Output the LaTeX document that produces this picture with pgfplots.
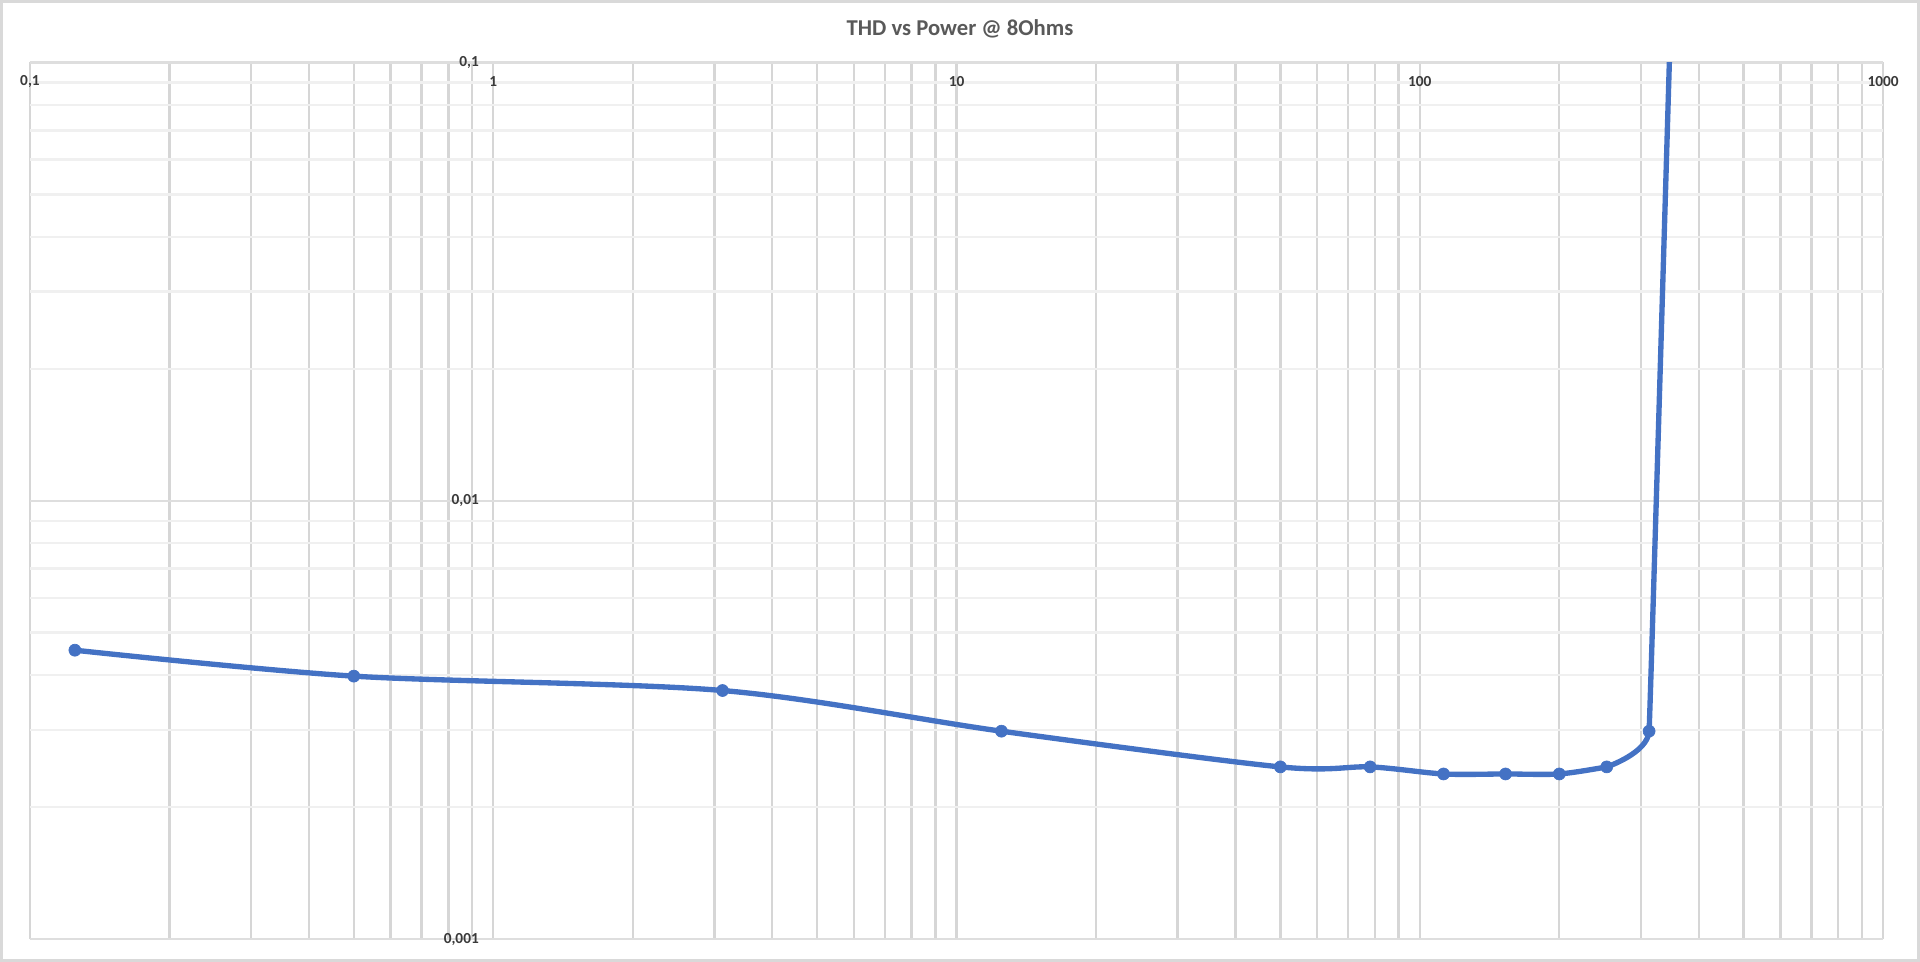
\documentclass[border=0pt]{standalone}
\usepackage{pgfplots}
\usepackage{pgfplotstable}
\pgfplotsset{compat=1.18}
\usepackage{fontspec}
\setmainfont{Carlito}

\definecolor{excelblue}{HTML}{4472C4}
\definecolor{framegray}{HTML}{D9D9D9}
\definecolor{gridx}{HTML}{D6D6D6}
\definecolor{gridymaj}{HTML}{DEDEDE}
\definecolor{gridymin}{HTML}{F0F0F0}
\definecolor{titlegray}{HTML}{595959}
\definecolor{labelgray}{HTML}{3A3A3A}

% THD (%) against output power (W) into 8 ohms
\pgfplotstableread{
P        THD
0.125    0.00456
0.5      0.00398
3.125    0.00369
12.5     0.00298
50       0.00247
78.125   0.00247
112.5    0.00238
153.125  0.00238
200      0.00238
253.125  0.00247
312.5    0.00298
378.125  2.5
}\thdtable

\begin{document}
\begin{tikzpicture}[x=1pt,y=1pt]
\useasboundingbox (0,0) rectangle (1440,721.5);
% chart area border
\draw[framegray, line width=2.25pt] (1.125,1.125) rectangle (1438.875,720.375);
% chart title
\node[font=\bfseries\fontsize{17}{20}\selectfont, text=titlegray] at (720,699.5) {THD vs Power @ 8Ohms};
\begin{axis}[
  at={(22.5pt,17.25pt)}, anchor=south west,
  scale only axis, width=1389.75pt, height=657.4pt,
  xmode=log, ymode=log,
  xmin=0.1, xmax=1000, ymin=0.001, ymax=0.1,
  axis line style={draw=none},
  major tick length=0pt, minor tick length=0pt,
  xtick={0.1,1,10,100,1000},
  xticklabels={{0,1},1,10,100,1000},
  ytick={0.001,0.01,0.1},
  yticklabels={{0,001},{0,01},{0,1}},
  minor xtick={0.2,0.3,0.4,0.5,0.6,0.7,0.8,0.9,2,3,4,5,6,7,8,9,20,30,40,50,60,70,80,90,200,300,400,500,600,700,800,900},
  minor ytick={0.002,0.003,0.004,0.005,0.006,0.007,0.008,0.009,0.02,0.03,0.04,0.05,0.06,0.07,0.08,0.09},
  xmajorgrids, xminorgrids, ymajorgrids, yminorgrids,
  x grid style={gridx, line width=1.8pt},
  major y grid style={gridymaj, line width=1.8pt},
  minor y grid style={gridymin, line width=1.8pt},
  xticklabel pos=upper,
  ticklabel style={font=\bfseries\fontsize{11.5}{13}\selectfont, text=labelgray},
  xticklabel style={anchor=center, yshift=-14.5pt},
  yticklabel style={anchor=east, inner sep=0pt, xshift=336.8pt},
]
% smoothed curve over the flat part
\addplot[excelblue, line width=4pt, smooth, line join=round,
  skip coords between index={10}{12}] table[x=P, y=THD] {\thdtable};
% knee and steep rise into clipping
\addplot[excelblue, line width=4pt, smooth, tension=0.06, line join=round,
  skip coords between index={0}{9}] table[x=P, y=THD] {\thdtable};
% measurement points
\addplot[only marks, mark=*, mark size=4.5pt,
  mark options={draw=excelblue, fill=excelblue, line width=0.5pt}]
  table[x=P, y=THD] {\thdtable};
\end{axis}
\end{tikzpicture}
\end{document}
